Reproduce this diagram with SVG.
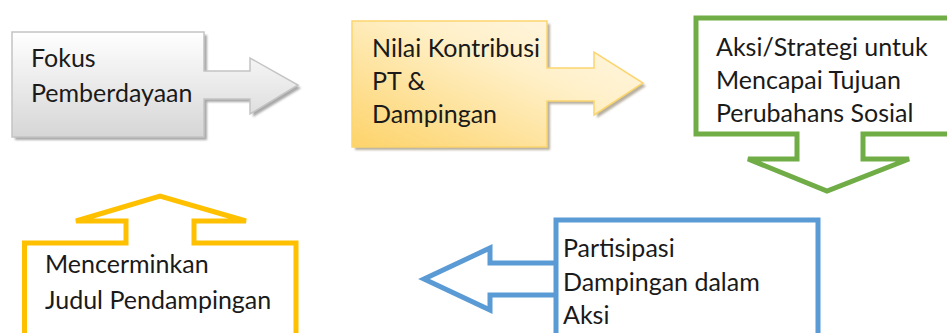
<svg xmlns="http://www.w3.org/2000/svg" width="947" height="333" viewBox="0 0 947 333">
<style>
text{font-family:Lato,"Liberation Sans",sans-serif;font-size:25px;fill:#1a1a1a}
.ol{fill:none;stroke-width:5;stroke-linejoin:miter}
</style>
<defs>
<linearGradient id="gGray" x1="0" y1="0" x2="0" y2="1">
<stop offset="0" stop-color="#ffffff"/><stop offset="1" stop-color="#d6d6d6"/>
</linearGradient>
<linearGradient id="gYel" x1="0" y1="1" x2="1" y2="0">
<stop offset="0" stop-color="#fdd36a"/><stop offset="0.6" stop-color="#fff0c8"/><stop offset="1" stop-color="#fff8ea"/>
</linearGradient>
<filter id="sh" x="-10%" y="-10%" width="130%" height="130%"><feGaussianBlur stdDeviation="1"/></filter>
</defs>
<g id="connectors"></g>
<g id="fokus">
<path d="M12,32 H204 V71 H250 V58 L298,85 L250,114 V99 H204 V137 H12 Z" transform="translate(3,3)" fill="#a8a8a8" filter="url(#sh)"/>
<path d="M12,32 H204 V71 H250 V58 L298,85 L250,114 V99 H204 V137 H12 Z" fill="url(#gGray)" stroke="#c4c4c4" stroke-width="1.5"/>
<text x="31" y="67">Fokus</text>
<text x="31" y="102">Pemberdayaan</text>
</g>
<g id="nilai">
<path d="M352,21 H547 V68 H594 V52 L643,83 L594,115 V101 H547 V147 H352 Z" transform="translate(3,3)" fill="#b8b0a0" filter="url(#sh)"/>
<path d="M352,21 H547 V68 H594 V52 L643,83 L594,115 V101 H547 V147 H352 Z" fill="url(#gYel)" stroke="#fbd56e" stroke-width="1.5"/>
<text x="372" y="57">Nilai Kontribusi</text>
<text x="372" y="90">PT &amp;</text>
<text x="372" y="123">Dampingan</text>
</g>
<g id="aksi">
<path class="ol" stroke="#70ad47" d="M960,18 H696 V134 H797 V159 H748 L827,191 L909,159 H863 V134 H960"/>
<text x="716" y="56">Aksi/Strategi untuk</text>
<text x="716" y="89">Mencapai Tujuan</text>
<text x="716" y="122">Perubahans Sosial</text>
</g>
<g id="partisipasi">
<path class="ol" stroke="#5b9bd5" d="M556,345 V220 H818 V345 M556,263 H490 V248 L424,279 L490,310 V295 H556"/>
<text x="563" y="257">Partisipasi</text>
<text x="563" y="291">Dampingan dalam</text>
<text x="563" y="324">Aksi</text>
</g>
<g id="mencerminkan">
<path class="ol" stroke="#ffc000" d="M24.5,345 V243 H126 V221 H76 L160,196 L246,221 H194 V243 H296 V345"/>
<text x="45" y="273">Mencerminkan</text>
<text x="45" y="309">Judul Pendampingan</text>
</g>
</svg>
